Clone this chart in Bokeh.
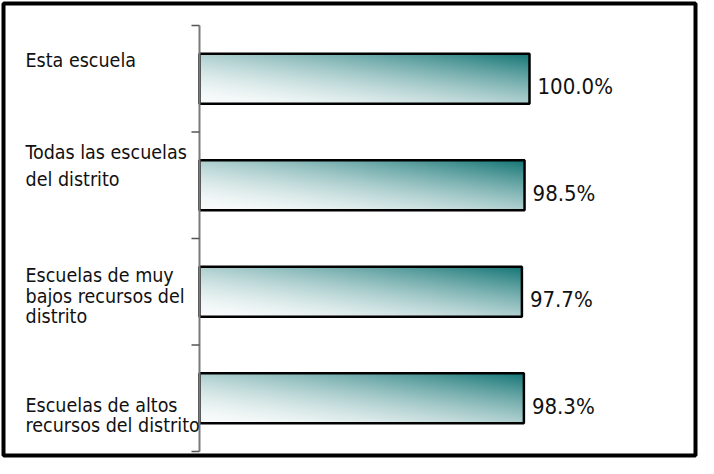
import numpy as np
from bokeh.plotting import figure
from bokeh.models import Range1d, ColumnDataSource
from bokeh.core.properties import value
from bokeh.embed import file_html
from bokeh.resources import INLINE

# ---- data ----
categories = [
    "Esta escuela",
    "Todas las escuelas\ndel distrito",
    "Escuelas de muy\nbajos recursos del\ndistrito",
    "Escuelas de altos\nrecursos del distrito",
]
values = [100.0, 98.5, 97.7, 98.3]
value_labels = ["100.0%", "98.5%", "97.7%", "98.3%"]

# ---- layout constants (pixels) ----
W, H = 698, 458
MB = 3
FW, FH = W - 2 * MB, H - 2 * MB
PX_PER_UNIT = 3.3
ZERO_PX = 196            # frame px where x = 0
BAND_PX = 106.5
TOP_PX = 22              # frame px of top band edge
label_first_baseline = [35, 20, 37, 60]   # px below band top
label_line_gap = [20, 27, 20.5, 20]
FONT = "DejaVu Sans Condensed, Liberation Sans Narrow, sans-serif"

n = len(categories)
x_start = -ZERO_PX / PX_PER_UNIT
x_end = (FW - ZERO_PX) / PX_PER_UNIT
y_end = n + TOP_PX / BAND_PX
y_start = y_end - FH / BAND_PX

p = figure(width=W, height=H, output_backend="svg", toolbar_location=None,
           x_range=Range1d(x_start, x_end), y_range=Range1d(y_start, y_end),
           x_axis_location=None, y_axis_location=None, min_border=MB)
p.grid.visible = False
p.outline_line_color = "black"
p.outline_line_width = 4
p.background_fill_color = "white"
p.border_fill_color = "white"

# positions: first category at top
centers = [n - 1 - k + 0.5 for k in range(n)]
bar_h = 50 / BAND_PX

# gradient image
rows, cols = 50, 330
v = np.linspace(0, 1, rows)[:, None]
u = np.linspace(0, 1, cols)[None, :]
t = ((u + v) / 2) ** 1.6
white = np.array([250, 252, 252])
teal = np.array([22, 118, 118])
rgb = white[None, None, :] * (1 - t[..., None]) + teal[None, None, :] * t[..., None]
img = np.empty((rows, cols), dtype=np.uint32)
view = img.view(dtype=np.uint8).reshape((rows, cols, 4))
view[..., 0] = rgb[..., 0].astype(np.uint8)
view[..., 1] = rgb[..., 1].astype(np.uint8)
view[..., 2] = rgb[..., 2].astype(np.uint8)
view[..., 3] = 255

p.image_rgba(image=[img] * n, x=[0] * n, y=[c - bar_h / 2 for c in centers],
             dw=values, dh=[bar_h] * n)
p.hbar(y=centers, height=bar_h, left=0, right=values, fill_color=None,
       line_color="black", line_width=2.5)

# axis line and ticks at band boundaries
ticks = list(range(n + 1))
p.segment(x0=[0], y0=[0], x1=[0], y1=[n], line_color="#7a7a7a", line_width=2)
p.ray(x=[0] * len(ticks), y=ticks, length=8, length_units="screen",
      angle=np.pi, line_color="#555555", line_width=1.5)

# value labels
p.text(x=values, y=centers, text=value_labels, x_offset=8, y_offset=8,
       text_baseline="alphabetic", text_align="left",
       text_font=value(FONT), text_font_size="22px", text_color="#111111")

# category labels, one line at a time
lx, ly, lt, loff = [], [], [], []
label_x = x_start + 22 / PX_PER_UNIT
for k, lab in enumerate(categories):
    for j, line in enumerate(lab.split("\n")):
        lx.append(label_x)
        ly.append(n - k)
        lt.append(line)
        loff.append(label_first_baseline[k] + j * label_line_gap[k])
src = ColumnDataSource(dict(x=lx, y=ly, text=lt, off=loff))
p.text(x="x", y="y", text="text", y_offset="off", source=src,
       text_baseline="alphabetic", text_align="left",
       text_font=value(FONT), text_font_size="19.5px", text_color="#111111")

open("out.html", "w").write(file_html(p, INLINE))
